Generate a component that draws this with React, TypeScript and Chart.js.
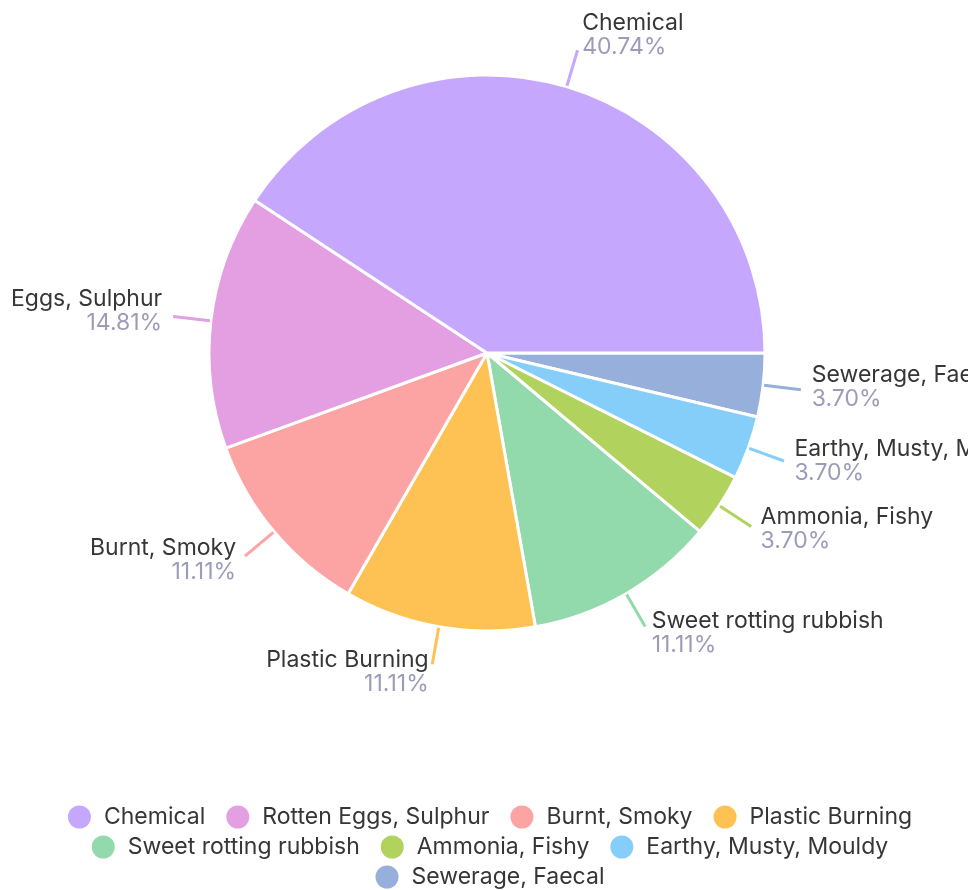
import React, { useEffect, useRef } from 'react';
import { Chart, ArcElement, PieController } from 'chart.js';

Chart.register(ArcElement, PieController);

// Original (legend) order
const categories = [
  'Chemical',
  'Rotten Eggs, Sulphur',
  'Burnt, Smoky',
  'Plastic Burning',
  'Sweet rotting rubbish',
  'Ammonia, Fishy',
  'Earthy, Musty, Mouldy',
  'Sewerage, Faecal',
];
const percentages = [40.74, 14.81, 11.11, 11.11, 11.11, 3.7, 3.7, 3.7];
const colors = [
  '#c5a8fe',
  '#e39fe2',
  '#fca4a4',
  '#fec254',
  '#92d9ab',
  '#b1d35d',
  '#86cefa',
  '#97afdb',
];

const FONT = '23px Inter, "Open Sans", sans-serif';
const NAME_COLOR = '#363636';
const PCT_COLOR = '#9c9cb9';

// Chart.js draws clockwise; the reference runs counter-clockwise, so feed reversed
const drawOrder = categories.map((_, i) => categories.length - 1 - i);

const outLabels = {
  id: 'outLabels',
  afterDatasetsDraw(chart: any) {
    const ctx = chart.ctx as CanvasRenderingContext2D;
    const meta = chart.getDatasetMeta(0);
    meta.data.forEach((arc: any, k: number) => {
      const i = drawOrder[k];
      const p = arc.getProps(['x', 'y', 'startAngle', 'endAngle', 'outerRadius'], true);
      const mid = (p.startAngle + p.endAngle) / 2;
      const c = Math.cos(mid);
      const s = Math.sin(mid);
      const r0 = p.outerRadius + 1;
      const r1 = p.outerRadius + 38;
      ctx.save();
      ctx.strokeStyle = colors[i];
      ctx.lineWidth = 3;
      ctx.beginPath();
      ctx.moveTo(p.x + c * r0, p.y + s * r0);
      const ex = p.x + c * r1;
      const ey = p.y + s * r1;
      ctx.lineTo(ex, ey);
      ctx.stroke();
      const right = c >= 0;
      const gap = 2 + 9 * Math.abs(c);
      const tx = right ? ex + gap : ex - gap;
      const cy = ey + 12 * s - 4;
      ctx.font = FONT;
      ctx.textAlign = right ? 'left' : 'right';
      ctx.textBaseline = 'middle';
      ctx.fillStyle = NAME_COLOR;
      ctx.fillText(categories[i], tx, cy - 12);
      ctx.fillStyle = PCT_COLOR;
      ctx.fillText(percentages[i].toFixed(2) + '%', tx, cy + 12);
      ctx.restore();
    });
  },
};

const customLegend = {
  id: 'customLegend',
  afterDraw(chart: any) {
    const ctx = chart.ctx as CanvasRenderingContext2D;
    const W = chart.width;
    const dot = 23;
    const dotGap = 13;
    const itemGap = 21;
    const maxW = W - 20;
    ctx.save();
    ctx.font = FONT;
    const widths = categories.map((t) => dot + dotGap + ctx.measureText(t).width);
    const rows: number[][] = [];
    let cur: number[] = [];
    let curW = 0;
    widths.forEach((w, i) => {
      const add = cur.length ? itemGap + w : w;
      if (cur.length && curW + add > maxW) {
        rows.push(cur);
        cur = [i];
        curW = w;
      } else {
        cur.push(i);
        curW += add;
      }
    });
    if (cur.length) rows.push(cur);
    const top = 809;
    const rowH = 30;
    const centerX = 482;
    rows.forEach((row, r) => {
      const total = row.reduce((a, i) => a + widths[i], 0) + itemGap * (row.length - 1);
      let x = centerX - total / 2;
      const y = top + r * rowH;
      row.forEach((i) => {
        ctx.fillStyle = colors[i];
        ctx.beginPath();
        ctx.arc(x + dot / 2, y, dot / 2, 0, Math.PI * 2);
        ctx.fill();
        ctx.fillStyle = NAME_COLOR;
        ctx.textAlign = 'left';
        ctx.textBaseline = 'middle';
        ctx.fillText(categories[i], x + dot + dotGap, y);
        x += widths[i] + itemGap;
      });
    });
    ctx.restore();
  },
};

export default function App() {
  const ref = useRef<HTMLCanvasElement | null>(null);
  useEffect(() => {
    if (!ref.current) return;
    const chart = new Chart(ref.current, {
      type: 'pie',
      data: {
        labels: drawOrder.map((i) => categories[i]),
        datasets: [
          {
            data: drawOrder.map((i) => percentages[i]),
            backgroundColor: drawOrder.map((i) => colors[i]),
            borderColor: '#ffffff',
            borderWidth: 3,
          },
        ],
      },
      options: {
        responsive: false,
        animation: false,
        rotation: 90,
        radius: 278,
        layout: { padding: { left: 0, right: 2, top: 0, bottom: 192 } },
        plugins: { legend: { display: false }, tooltip: { enabled: false } },
      },
      plugins: [outLabels, customLegend],
    });
    return () => chart.destroy();
  }, []);
  return (
    <div style={{ position: 'fixed', left: 8, top: 8, width: 960, height: 882 }}>
      <canvas ref={ref} width={960} height={882} style={{ display: 'block' }} />
    </div>
  );
}
